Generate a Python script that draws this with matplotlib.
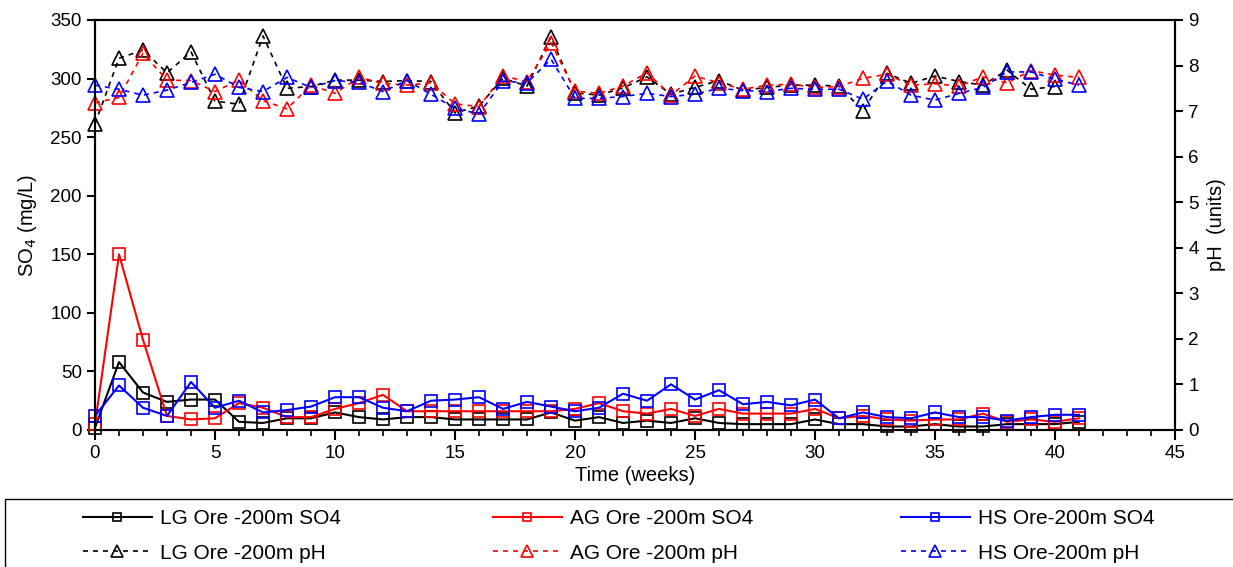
import numpy as np
import matplotlib
matplotlib.use("Agg")
from matplotlib import pyplot as plt
from matplotlib.patches import Rectangle
from matplotlib.ticker import MultipleLocator

plt.rcParams['font.family'] = ['Liberation Sans', 'DejaVu Sans']

weeks = np.arange(42)

# sulphate (mg/L), weeks 0-41
lg_so4 = [2, 58, 32, 24, 26, 26, 7, 6, 10, 10, 15, 11, 9, 11, 11, 9, 9, 9, 9, 15,
          8, 11, 6, 8, 6, 10, 6, 5, 5, 5, 9, 5, 5, 3, 3, 5, 3, 3, 5, 5, 5, 7]
ag_so4 = [5, 150, 77, 12, 9, 10, 23, 19, 11, 11, 18, 23, 30, 16, 16, 16, 16, 16, 16, 16,
          18, 23, 16, 14, 18, 12, 18, 14, 14, 14, 18, 10, 12, 9, 8, 9, 9, 14, 7, 9, 7, 10]
hs_so4 = [12, 38, 19, 12, 41, 19, 25, 15, 17, 20, 28, 28, 19, 16, 25, 26, 28, 18, 24, 20,
          16, 19, 31, 25, 39, 26, 34, 22, 24, 21, 26, 10, 15, 11, 10, 15, 11, 11, 8, 11, 13, 13]

# pH (units); LG pH stops at week 40
lg_ph = [6.72, 8.16, 8.34, 7.84, 8.30, 7.22, 7.15, 8.65, 7.50, 7.54, 7.68, 7.68, 7.65, 7.67,
         7.65, 6.96, 7.11, 7.72, 7.55, 8.63, 7.40, 7.35, 7.51, 7.75, 7.37, 7.52, 7.67, 7.46,
         7.52, 7.57, 7.57, 7.55, 7.01, 7.83, 7.61, 7.77, 7.65, 7.57, 7.90, 7.48, 7.54]
ag_ph = [7.18, 7.30, 8.27, 7.68, 7.67, 7.43, 7.68, 7.23, 7.05, 7.57, 7.39, 7.74, 7.61, 7.57,
         7.62, 7.16, 7.10, 7.77, 7.65, 8.50, 7.44, 7.39, 7.55, 7.84, 7.35, 7.77, 7.62, 7.48,
         7.57, 7.59, 7.52, 7.54, 7.72, 7.81, 7.57, 7.60, 7.55, 7.75, 7.62, 7.89, 7.79, 7.74]
hs_ph = [7.57, 7.48, 7.35, 7.46, 7.63, 7.81, 7.52, 7.43, 7.74, 7.52, 7.67, 7.63, 7.43, 7.67,
         7.37, 7.06, 6.94, 7.66, 7.62, 8.14, 7.28, 7.28, 7.32, 7.39, 7.32, 7.37, 7.50, 7.45,
         7.43, 7.50, 7.48, 7.48, 7.26, 7.66, 7.35, 7.24, 7.39, 7.52, 7.86, 7.86, 7.70, 7.57]

W, H = 1233, 567
fig = plt.figure(figsize=(W / 100, H / 100), dpi=100)
ax = fig.add_axes([95 / W, 1 - 430 / H, 1080 / W, 410 / H])
ax2 = ax.twinx()

fs = 13.5
sq = dict(marker='s', markersize=8, markerfacecolor='none', markeredgewidth=1.2,
          linewidth=1.5, clip_on=False)
tri = dict(marker='^', markersize=10, markerfacecolor='none', markeredgewidth=1.2,
           linewidth=1.2, linestyle=(0, (3, 3)), clip_on=False)

h1, = ax.plot(weeks, lg_so4, color='black', label='LG Ore -200m SO4', **sq)
h2, = ax.plot(weeks, ag_so4, color='red', label='AG Ore -200m SO4', **sq)
h3, = ax.plot(weeks, hs_so4, color='blue', label='HS Ore-200m SO4', **sq)
p1, = ax2.plot(weeks[:len(lg_ph)], lg_ph, color='black', label='LG Ore -200m pH', **tri)
p2, = ax2.plot(weeks, ag_ph, color='red', label='AG Ore -200m pH', **tri)
p3, = ax2.plot(weeks, hs_ph, color='blue', label='HS Ore-200m pH', **tri)

ax.set_xlim(0, 45)
ax.set_ylim(0, 350)
ax2.set_ylim(0, 9)
ax.xaxis.set_major_locator(MultipleLocator(5))
ax.xaxis.set_minor_locator(MultipleLocator(1))
ax.yaxis.set_major_locator(MultipleLocator(50))
ax2.yaxis.set_major_locator(MultipleLocator(1))

for a in (ax, ax2):
    for s in a.spines.values():
        s.set_linewidth(1.5)
    a.tick_params(which='major', direction='out', length=6, width=1.5, labelsize=fs)
    a.tick_params(which='minor', direction='out', length=4, width=1.2)
ax.tick_params(axis='x', which='major', length=7)

ax.set_xlabel('Time (weeks)', fontsize=14.5, labelpad=3)
ax.set_ylabel('SO$_4$ (mg/L)', fontsize=14.5, labelpad=8)
ax2.set_ylabel('pH  (units)', fontsize=14.5, labelpad=6)

# legend box under the plot, one legend per column
fig.add_artist(Rectangle((5 / W, -0.01), 1.0, (H - 499) / H + 0.01,
                         transform=fig.transFigure, fill=False,
                         edgecolor='black', linewidth=1.0))
for x0, pair in zip([83, 493, 901], [(h1, p1), (h2, p2), (h3, p3)]):
    fig.legend(handles=list(pair), labels=[h.get_label() for h in pair],
               loc='upper left', bbox_to_anchor=(x0 / W, 1 - 509 / H),
               fontsize=15, frameon=False, handlelength=3.3, handletextpad=0.4,
               numpoints=1, borderaxespad=0, borderpad=0, labelspacing=0.75,
               markerscale=0.8)

fig.savefig('out.png', dpi=100)
